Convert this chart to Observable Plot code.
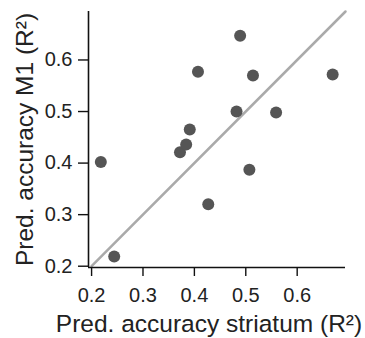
<!DOCTYPE html>
<html>
<head>
<meta charset="utf-8">
<script src="https://cdn.jsdelivr.net/npm/d3@7"></script>
<script src="https://cdn.jsdelivr.net/npm/@observablehq/plot@0.6"></script>
<style>
  html, body { margin: 0; padding: 0; background: #fff; }
  #chart svg { display: block; }
</style>
</head>
<body>
<div id="chart"></div>
<script>
// Data
const striatum = [0.218, 0.244, 0.372, 0.384, 0.391, 0.407, 0.427, 0.482, 0.489, 0.507, 0.514, 0.559, 0.669];
const m1       = [0.402, 0.219, 0.421, 0.436, 0.465, 0.577, 0.320, 0.500, 0.647, 0.387, 0.570, 0.498, 0.572];
const xTicks = [0.2, 0.3, 0.4, 0.5, 0.6];
const yTicks = [0.2, 0.3, 0.4, 0.5, 0.6];
const identityExtent = [0.2, 0.694];
const xLabel = "Pred. accuracy striatum (R²)";
const yLabel = "Pred. accuracy M1 (R²)";

const points = striatum.map((s, i) => ({striatum: s, m1: m1[i]}));

const xDomain = [0.194, 0.694];
const yDomain = [0.1975, 0.694];

const chart = Plot.plot({
  width: 365,
  height: 338,
  marginLeft: 88,
  marginRight: 20,
  marginTop: 11,
  marginBottom: 71,
  style: {fontFamily: "'Liberation Sans', Arial, Helvetica, sans-serif", color: "#222", background: "#fff"},
  x: {domain: xDomain},
  y: {domain: yDomain},
  marks: [
    Plot.line(identityExtent, {x: d => d, y: d => d, stroke: "#aaaaaa", strokeWidth: 2.5}),
    Plot.ruleX([xDomain[0]], {stroke: "#111", strokeWidth: 1.6}),
    Plot.ruleY([yDomain[0]], {stroke: "#111", strokeWidth: 1.6}),
    Plot.axisX({ticks: xTicks, tickSize: 9, tickPadding: 11, fontSize: 20, tickFormat: d3.format(".1f"), label: null, stroke: "#111", strokeWidth: 1.4}),
    Plot.axisY({ticks: yTicks, tickSize: 10, tickPadding: 6, fontSize: 20, tickFormat: d3.format(".1f"), label: null, stroke: "#111", strokeWidth: 1.4}),
    Plot.dot(points, {x: "striatum", y: "m1", r: 6, fill: "#555", stroke: "none"}),
    Plot.text([xLabel], {text: d => d, frameAnchor: "bottom", textAnchor: "middle", lineAnchor: "bottom", dy: 64, dx: -8, fontSize: 24.5, fill: "#222"}),
    Plot.text([yLabel], {text: d => d, frameAnchor: "left", textAnchor: "middle", lineAnchor: "bottom", rotate: -90, dx: -56, fontSize: 24.5, fill: "#222"})
  ]
});
document.getElementById("chart").appendChild(chart);
</script>
</body>
</html>
